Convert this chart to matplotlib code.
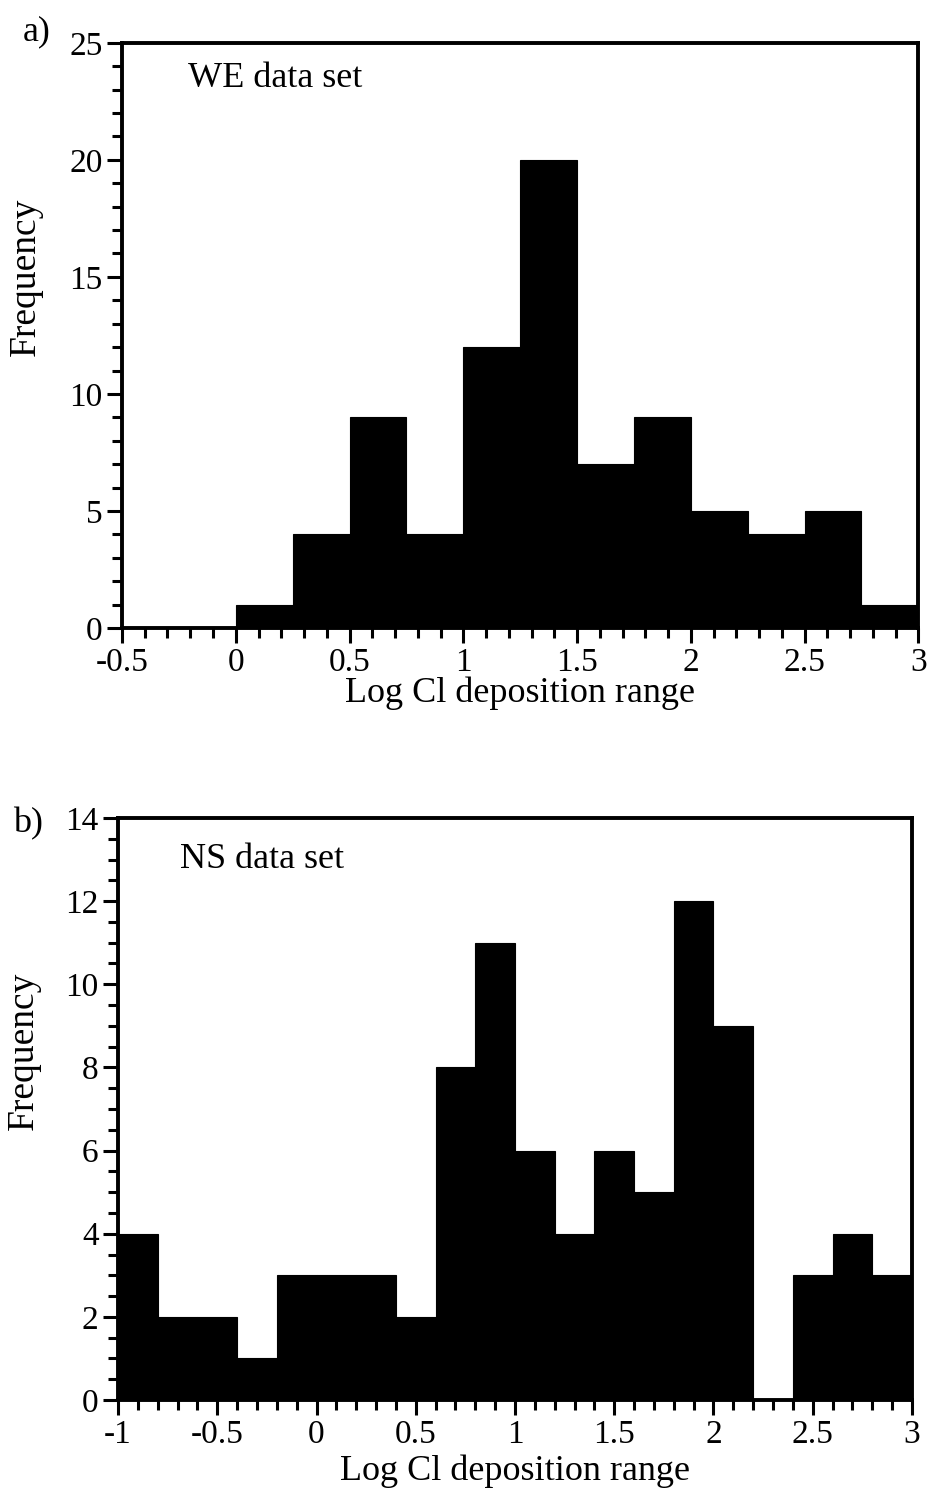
import matplotlib.pyplot as plt
import numpy as np
from matplotlib.ticker import MultipleLocator

plt.rcParams['font.family'] = ['Liberation Serif', 'DejaVu Serif']

# WE data set (bin width 0.25)
we_edges = [0, 0.25, 0.5, 0.75, 1.0, 1.25, 1.5, 1.75, 2.0, 2.25, 2.5, 2.75, 3.0]
we_counts = [1, 4, 9, 4, 12, 20, 7, 9, 5, 4, 5, 1]

# NS data set (bin width 0.2)
ns_edges = [-1.0, -0.8, -0.6, -0.4, -0.2, 0.0, 0.2, 0.4, 0.6, 0.8, 1.0,
            1.2, 1.4, 1.6, 1.8, 2.0, 2.2, 2.4, 2.6, 2.8, 3.0]
ns_counts = [4, 2, 2, 1, 3, 3, 3, 2, 8, 11, 6, 4, 6, 5, 12, 9, 0, 3, 4, 3]

fig = plt.figure(figsize=(9.27, 14.94), dpi=100, facecolor='white')
ax1 = fig.add_axes([0.1316, 0.5797, 0.859, 0.3916])
ax2 = fig.add_axes([0.1273, 0.0629, 0.8565, 0.3896])

fs_tick = 24
fs = 26


def draw(ax, edges, counts, xlim, ylim, ymaj, ymin, title, tag, title_xy, tag_xy, ylab_x):
    edges = np.array(edges)
    ax.bar(edges[:-1], counts, width=np.diff(edges), align='edge',
           color='black', edgecolor='black', linewidth=0.8)
    ax.set_xlim(*xlim)
    ax.set_ylim(*ylim)
    ax.xaxis.set_major_locator(MultipleLocator(0.5))
    ax.xaxis.set_minor_locator(MultipleLocator(0.1))
    ax.yaxis.set_major_locator(MultipleLocator(ymaj))
    ax.yaxis.set_minor_locator(MultipleLocator(ymin))
    ax.xaxis.set_major_formatter(plt.FuncFormatter(lambda v, p: ('%g' % v)))
    ax.tick_params(which='major', direction='out', length=11, width=2.2,
                   labelsize=fs_tick, pad=3)
    ax.tick_params(which='minor', direction='out', length=7, width=2.2)
    ax.tick_params(top=False, right=False, which='both')
    for s in ax.spines.values():
        s.set_linewidth(2.8)
    ax.set_ylabel('Frequency', fontsize=27)
    ax.yaxis.set_label_coords(ylab_x, 0.6)
    ax.text(title_xy[0], title_xy[1], title, transform=ax.transAxes,
            fontsize=fs, va='baseline')
    ax.text(tag_xy[0], tag_xy[1], tag, transform=ax.transAxes,
            fontsize=fs, va='baseline', ha='right')


draw(ax1, we_edges, we_counts, (-0.5, 3), (0, 25), 5, 1, 'WE data set', 'a)',
     (0.083, 0.925), (-0.09, 1.004), -0.1)
ax1.set_xlabel('Log Cl deposition range', fontsize=fs, labelpad=-1)
draw(ax2, ns_edges, ns_counts, (-1, 3), (0, 14), 2, 0.5, 'NS data set', 'b)',
     (0.078, 0.914), (-0.094, 0.976), -0.097)
ax2.set_xlabel('Log Cl deposition range', fontsize=fs, labelpad=3)

fig.savefig('out.png', dpi=100, facecolor='white')
